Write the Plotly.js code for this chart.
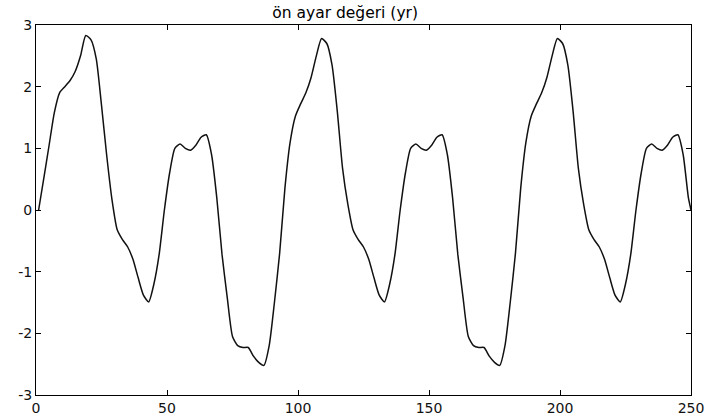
<!DOCTYPE html>
<html>
<head>
<meta charset="utf-8">
<script src="https://cdn.plot.ly/plotly-3.0.1.min.js"></script>
<style>html,body{margin:0;padding:0;background:#fff;}#chart{width:705px;height:417px;}</style>
</head>
<body>
<div id="chart"></div>
<script>
const titleText = "ön ayar değeri (yr)";
const xTickVals = [0, 50, 100, 150, 200, 250];
const yTickVals = [-3, -2, -1, 0, 1, 2, 3];

const xs = [1,3,5,7,9,11,13,15,17,19,21,23,25,27,29,31,33,35,37,39,41,43,45,47,49,
  51,53,55,57,59,61,63,65,67,69,71,73,75,77,79,81,83,85,87,89,91,93,95,97,99,
  101,103,105,107,109,111,113,115,117,119,121,123,125,127,129,131,133,135,137,139,
  141,143,145,147,149,151,153,155,157,159,161,163,165,167,169,171,173,175,177,179,
  181,183,185,187,189,191,193,195,197,199,201,203,205,207,209,211,213,215,217,219,
  221,223,225,227,229,231,233,235,237,239,241,243,245,247,249,250];

const ys = [0.0,0.52,1.05,1.58,1.9,2.0,2.1,2.25,2.5,2.83,2.76,2.45,1.7,0.88,0.17,-0.32,-0.48,-0.6,-0.8,-1.1,
  -1.38,-1.49,-1.2,-0.72,0.0,0.6,1.0,1.07,1.0,0.97,1.05,1.18,1.22,0.9,0.2,-0.72,-1.42,-2.05,-2.2,-2.23,
  -2.23,-2.37,-2.47,-2.52,-2.2,-1.5,-0.7,0.35,1.1,1.52,1.72,1.9,2.15,2.5,2.78,2.7,2.35,1.6,0.68,0.1,
  -0.32,-0.48,-0.6,-0.8,-1.1,-1.38,-1.49,-1.2,-0.72,0.0,0.6,1.0,1.07,1.0,0.97,1.05,1.18,1.22,0.9,0.2,
  -0.72,-1.42,-2.05,-2.2,-2.23,-2.23,-2.37,-2.47,-2.52,-2.2,-1.5,-0.7,0.35,1.1,1.52,1.72,1.9,2.15,2.5,2.78,
  2.7,2.35,1.6,0.68,0.1,-0.32,-0.48,-0.6,-0.8,-1.1,-1.38,-1.49,-1.2,-0.72,0.0,0.6,1.0,1.07,1.0,0.97,
  1.05,1.18,1.22,0.9,0.2,0.0];

const trace = {
  x: xs, y: ys, type: 'scatter', mode: 'lines',
  line: {color: '#111111', width: 1.5, shape: 'spline', smoothing: 0.6},
  hoverinfo: 'skip'
};

const axisCommon = {
  showgrid: false, zeroline: false, showline: true, linecolor: '#000', linewidth: 1,
  mirror: 'ticks', ticks: 'inside', ticklen: 5, tickcolor: '#000', tickwidth: 1,
  tickfont: {family: 'DejaVu Sans, sans-serif', size: 14, color: '#111'},
  fixedrange: true
};

const layout = {
  width: 705, height: 417,
  margin: {l: 36, r: 14, t: 25, b: 22, pad: 0},
  paper_bgcolor: '#fff', plot_bgcolor: '#fff',
  showlegend: false,
  title: {text: titleText, x: 0.472, xref: 'paper', xanchor: 'center', y: 0.969, yref: 'container', yanchor: 'middle',
    font: {family: 'DejaVu Sans, sans-serif', size: 15.5, color: '#000'}},
  xaxis: Object.assign({}, axisCommon, {range: [0, 250], tickvals: xTickVals, ticktext: xTickVals.map(String)}),
  yaxis: Object.assign({}, axisCommon, {range: [-3, 3], tickvals: yTickVals, ticktext: yTickVals.map(String)})
};

Plotly.newPlot('chart', [trace], layout, {displayModeBar: false, staticPlot: true});
</script>
</body>
</html>
